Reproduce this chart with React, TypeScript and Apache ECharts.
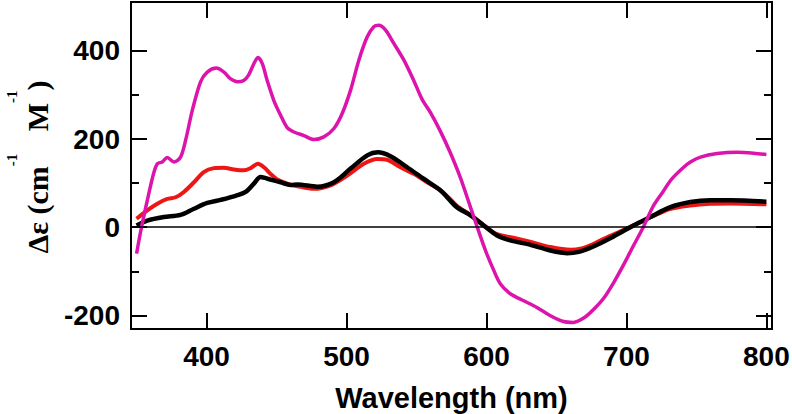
import React, { useEffect, useRef } from 'react';
import * as echarts from 'echarts';

// Wavelength (nm) / Δε values
const magentaWl = [350, 353, 357.6, 362, 364.8, 368.3, 371.9, 376.7, 381.4, 385, 389.8, 395.7, 400.5, 407, 412.4, 417, 422, 426.6, 430, 433.8, 436.7, 439.8, 443.3, 448, 452.9, 457.6, 462.4, 469.5, 476.7, 483.8, 491, 496.9, 502.9, 508.8, 514.8, 519.5, 523, 527.9, 533.8, 541, 548, 554, 560, 567, 574, 581.4, 588.6, 593.4, 599.3, 605.2, 610, 617, 626.6, 636, 645.7, 655, 662, 670, 677, 684, 691, 698, 705, 712, 719, 726, 732, 740.9, 745.7, 752.9, 764.8, 779, 791, 800];
const magentaDe = [-60, -8, 60, 120, 144, 148, 158, 148, 159, 197, 265, 330, 352, 361, 352, 337, 330, 333, 345, 371, 385, 371, 333, 288, 254, 226, 216, 208, 199, 205, 224, 258, 311, 379, 432, 455, 458, 447, 417, 379, 333, 290, 260, 218, 170, 112, 45, 0, -53, -98, -129, -151, -167, -182, -201, -214, -216, -205, -185, -160, -125, -85, -42, 0, 47, 80, 108, 136, 148, 159, 167, 170, 168, 165];

const redWl = [350, 357.6, 364.8, 371.9, 377.9, 383.8, 391, 398, 405.2, 412.4, 419.5, 426.6, 431.4, 436.7, 441, 445.7, 450.5, 457.6, 465, 476.7, 488.6, 500.5, 512.4, 522, 529, 538.6, 548, 557.6, 567, 573, 579, 588.6, 598, 607, 622, 631, 645.7, 660, 668, 675, 682, 689, 705, 717, 731, 745.7, 760, 774, 800];
const redDe = [19, 38, 53, 64, 68, 80, 102, 125, 134, 135, 131, 129, 134, 144, 136, 121, 108, 99, 93, 87, 95, 117, 144, 155, 153, 136, 121, 102, 84, 67, 48, 28, 5, -15, -26, -33, -45, -51, -48, -40, -29, -19, 4, 22, 41, 49, 53, 54, 52];

const blackWl = [350, 357.6, 369.5, 381.4, 391, 400.5, 410, 419.5, 427.9, 433.8, 438.6, 445.7, 452.9, 460, 465, 479, 491, 502.9, 514.8, 522.4, 531.4, 543.3, 555, 567, 573, 579, 588.6, 598, 607.6, 617, 631.4, 645.7, 657.6, 666, 674, 681, 689, 705, 717, 731, 745.7, 760, 774, 800];
const blackDe = [4, 15, 23, 28, 42, 55, 62, 70, 80, 99, 114, 108, 102, 96, 97, 92, 102, 133, 163, 170, 161, 136, 110, 84, 64, 45, 27, 4, -19, -30, -40, -53, -59, -56, -47, -37, -24, 4, 23, 45, 57, 61, 61, 58];

const xTicks = [400, 500, 600, 700, 800];
const yMajorTicks = [-200, 0, 200, 400];
const yMinorTicks = [-100, 100, 300];
const xMin = 346;
const xMax = 804;
const yMin = -231;
const yMax = 511;

const pair = (xs: number[], ys: number[]) => xs.map((x, i) => [x, ys[i]]);

export default function App() {
  const ref = useRef<HTMLDivElement>(null);
  useEffect(() => {
    const chart = echarts.init(ref.current!, null, { renderer: 'svg' });
    const sans = '"Liberation Sans", Arial, sans-serif';
    const serif = '"Liberation Serif", "Times New Roman", serif';
    const axisLine = { show: true, onZero: false, lineStyle: { color: '#000', width: 2 } };
    const tickStyle = { color: '#000', width: 2 };
    const labelStyle = { fontSize: 28, fontWeight: 'bold', color: '#000', fontFamily: sans };
    const yBase = { type: 'value', min: yMin, max: yMax, splitLine: { show: false }, axisLine };
    chart.setOption({
      animation: false,
      backgroundColor: '#fff',
      grid: { left: 131, right: 20, top: 2, bottom: 85, containLabel: false, outerBoundsMode: 'none' },
      xAxis: [
        {
          type: 'value', position: 'bottom', min: xMin, max: xMax,
          axisLine, splitLine: { show: false },
          axisTick: { inside: true, length: 16, customValues: xTicks, lineStyle: tickStyle },
          axisLabel: { ...labelStyle, customValues: xTicks, margin: 13 },
          name: 'Wavelength (nm)', nameLocation: 'middle', nameGap: 54,
          nameTextStyle: { fontSize: 29, fontWeight: 'bold', color: '#000', fontFamily: sans },
        },
        {
          type: 'value', position: 'top', min: xMin, max: xMax,
          axisLine, splitLine: { show: false },
          axisTick: { inside: true, length: 16, customValues: xTicks, lineStyle: tickStyle },
          axisLabel: { show: false },
        },
      ],
      yAxis: [
        {
          ...yBase, position: 'left',
          axisTick: { inside: true, length: 16, customValues: yMajorTicks, lineStyle: tickStyle },
          axisLabel: { ...labelStyle, customValues: yMajorTicks, margin: 11 },
        },
        {
          ...yBase, position: 'left',
          axisTick: { inside: true, length: 8, customValues: yMinorTicks, lineStyle: tickStyle },
          axisLabel: { show: false },
        },
        {
          ...yBase, position: 'right',
          axisTick: { inside: true, length: 16, customValues: yMajorTicks, lineStyle: tickStyle },
          axisLabel: { show: false },
        },
        {
          ...yBase, position: 'right',
          axisTick: { inside: true, length: 8, customValues: yMinorTicks, lineStyle: tickStyle },
          axisLabel: { show: false },
        },
      ],
      graphic: [
        {
          type: 'text',
          x: 43,
          y: 167,
          rotation: Math.PI / 2,
          style: {
            text: '{m|Δε (cm}{s|-1}{m|   M}{s|-1}{m|)}',
            align: 'center',
            verticalAlign: 'bottom',
            rich: {
              m: { fontFamily: serif, fontWeight: 'bold', fontSize: 30, lineHeight: 30, padding: [18, 0, 0, 0], fill: '#000' },
              s: { fontFamily: serif, fontWeight: 'bold', fontSize: 15, lineHeight: 15, padding: [0, 0, 33, 0], fill: '#000' },
            },
          },
        },
      ],
      series: [
        {
          type: 'line', name: 'red', data: pair(redWl, redDe), showSymbol: false, smooth: 0.3,
          lineStyle: { color: '#EE1515', width: 4 }, itemStyle: { color: '#EE1515' },
          markLine: {
            silent: true, symbol: 'none', label: { show: false },
            lineStyle: { color: '#000', width: 1.5, type: 'solid' },
            data: [{ yAxis: 0 }],
          },
        },
        {
          type: 'line', name: 'black', data: pair(blackWl, blackDe), showSymbol: false, smooth: 0.3,
          lineStyle: { color: '#000', width: 4.5 }, itemStyle: { color: '#000' },
        },
        {
          type: 'line', name: 'magenta', data: pair(magentaWl, magentaDe), showSymbol: false, smooth: 0.3,
          lineStyle: { color: '#DC14AC', width: 3.5 }, itemStyle: { color: '#DC14AC' },
        },
      ],
    });
    return () => chart.dispose();
  }, []);
  return <div ref={ref} style={{ width: 792, height: 414, position: 'absolute', left: 0, top: 0 }} />;
}
